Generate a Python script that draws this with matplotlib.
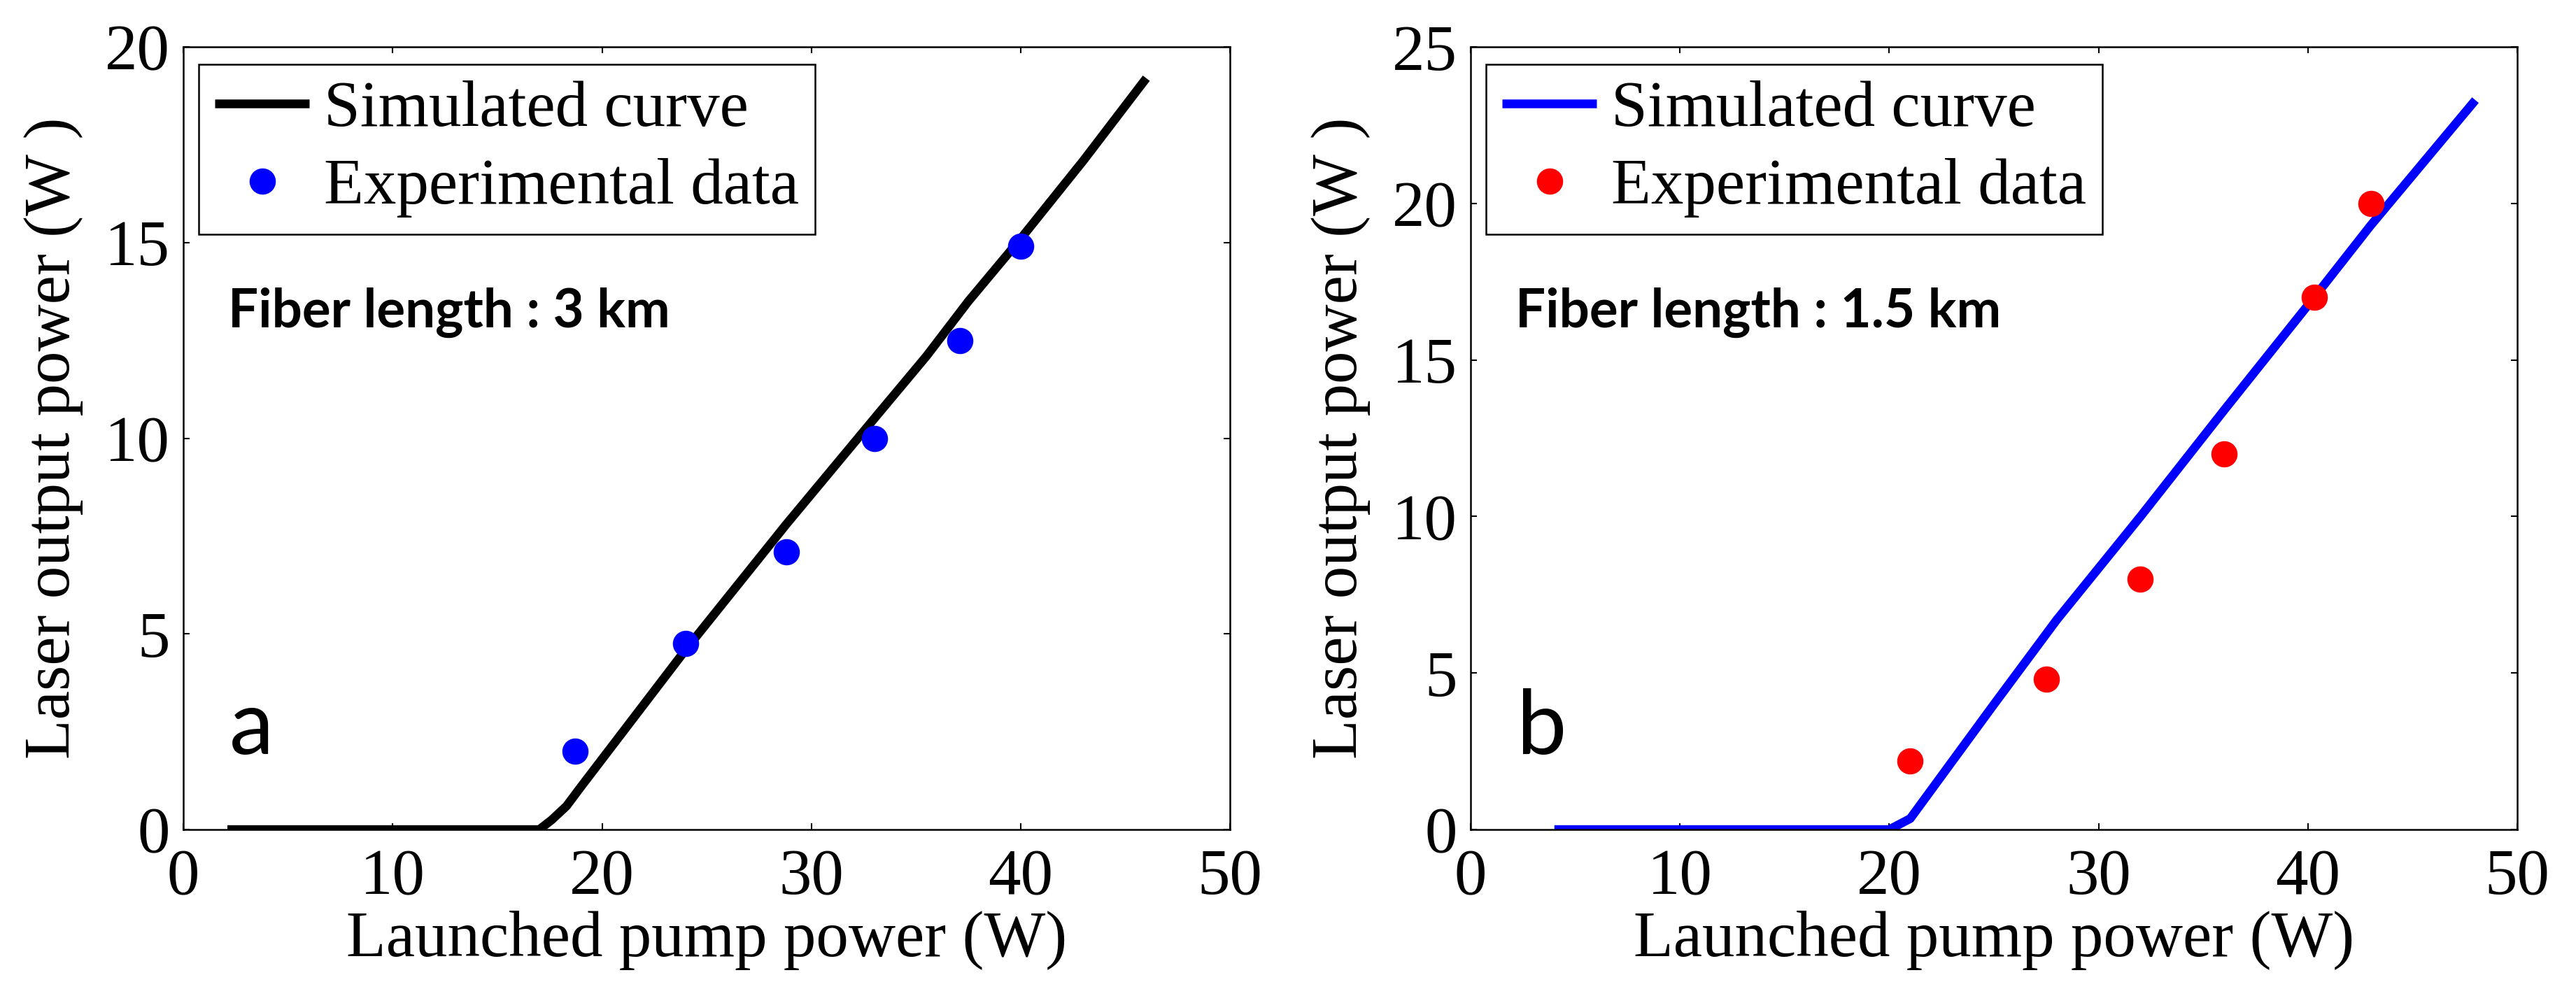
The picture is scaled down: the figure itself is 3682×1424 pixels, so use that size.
import matplotlib
matplotlib.use('Agg')
import matplotlib.pyplot as plt

# panel a : fiber length 3 km
sim_a_x = [2.1, 17.0, 17.6, 18.3, 19.0, 21.0, 24.0, 28.8, 33.0, 35.5, 37.5, 40.0, 43.0, 46.0]
sim_a_y = [0.0, 0.0, 0.25, 0.6, 1.1, 2.5, 4.6, 7.8, 10.5, 12.1, 13.5, 15.1, 17.1, 19.2]
exp_a_x = [18.7, 24.0, 28.8, 33.0, 37.1, 40.0]
exp_a_y = [2.0, 4.75, 7.1, 10.0, 12.5, 14.9]

# panel b : fiber length 1.5 km
sim_b_x = [4.0, 20.0, 21.0, 25.0, 28.0, 32.0, 36.0, 40.3, 43.0, 48.0]
sim_b_y = [0.0, 0.0, 0.35, 4.0, 6.7, 10.0, 13.4, 17.0, 19.3, 23.3]
exp_b_x = [21.0, 27.5, 32.0, 36.0, 40.3, 43.0]
exp_b_y = [2.2, 4.8, 8.0, 12.0, 17.0, 20.0]

xticks = [0, 10, 20, 30, 40, 50]
yticks_a = [0, 5, 10, 15, 20]
yticks_b = [0, 5, 10, 15, 20, 25]

plt.rcParams['font.family'] = ['Liberation Serif', 'DejaVu Serif']
fs = 67

fig = plt.figure(figsize=(36.82, 14.24), dpi=100)
ax1 = fig.add_axes([0.0712, 0.1671, 0.4063, 0.7858])
ax2 = fig.add_axes([0.5709, 0.1671, 0.4063, 0.7858])


def panel(ax, sx, sy, ex, ey, lcol, mcol, yt, ymax, note, letter):
    ax.plot(sx, sy, color=lcol, lw=9, solid_capstyle='butt', label='Simulated curve')
    ax.plot(ex, ey, 'o', color=mcol, ms=26, mec=mcol, label='Experimental data')
    ax.set_xlim(0, 50)
    ax.set_ylim(0, ymax)
    ax.set_xticks(xticks)
    ax.set_yticks(yt)
    ax.tick_params(direction='in', length=6.5, width=1.5, top=True, right=True, labelsize=fs)
    ax.tick_params(axis='x', pad=20)
    ax.tick_params(axis='y', pad=14)
    for s in ax.spines.values():
        s.set_linewidth(1.8)
    ax.set_xlabel('Launched pump power (W)', fontsize=fs, labelpad=2)
    ax.set_ylabel('Laser output power (W )', fontsize=fs, labelpad=22)
    leg = ax.legend(loc='upper left', bbox_to_anchor=(0.0147, 0.978), fontsize=fs,
                    numpoints=1, handlelength=1.45, handletextpad=0.22, labelspacing=0.28,
                    borderpad=0.25, borderaxespad=0, fancybox=False, framealpha=1)
    leg.get_frame().set_edgecolor('black')
    leg.get_frame().set_linewidth(1.8)
    ax.text(0.043, 0.661, note, transform=ax.transAxes, fontsize=55, fontweight='bold',
            family='Lato', va='center', ha='left')
    ax.text(0.044, 0.097, letter, transform=ax.transAxes, fontsize=92,
            family='Lato', va='baseline', ha='left')


panel(ax1, sim_a_x, sim_a_y, exp_a_x, exp_a_y, 'black', 'blue', yticks_a, 20,
      'Fiber length : 3 km', 'a')
panel(ax2, sim_b_x, sim_b_y, exp_b_x, exp_b_y, 'blue', 'red', yticks_b, 25,
      'Fiber length : 1.5 km', 'b')

fig.savefig('out.png', dpi=100)
